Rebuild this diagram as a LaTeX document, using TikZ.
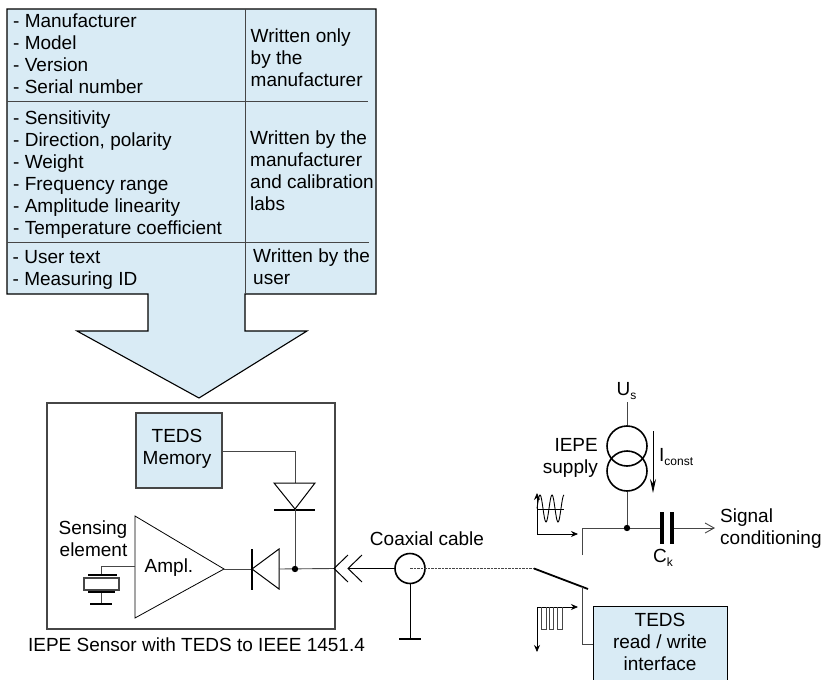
\documentclass[tikz,border=0pt]{standalone}
\usepackage{fontspec}
\setmainfont{Liberation Sans}
\usepackage{xcolor}
\usetikzlibrary{arrows.meta}
\definecolor{tedsblue}{RGB}{217,235,245}
\definecolor{wiregray}{RGB}{70,70,70}
\newcommand{\subtxt}[1]{\raisebox{-4.5pt}{\fontsize{12}{12}\selectfont #1}}
\tikzset{
  lbl/.style={font=\fontsize{19}{22}\selectfont, inner sep=0pt, align=left},
  lblc/.style={lbl, align=center},
  lblr/.style={lbl, align=right},
  wire/.style={draw=wiregray, line width=0.9pt},
  part/.style={draw=black, line width=1pt},
  plate/.style={draw=black, line width=2.8pt},
  tedsbox/.style={draw=black, line width=1.1pt, fill=tedsblue, inner sep=0pt},
  sigarrow/.style={draw=black, line width=0.8pt, -{Stealth[length=7pt,width=6pt]}}
}
\begin{document}
\begin{tikzpicture}[x=1pt,y=-1pt]
\useasboundingbox (0,0) rectangle (823,680);

%list: big arrow
\filldraw [fill=tedsblue, draw=black, line width=1.1pt]
  (7,9) -- (376,9) -- (376,294) -- (245,294) -- (245,331) -- (307,331) -- (199,398)
  -- (77,331) -- (148,331) -- (148,294) -- (7,294) -- cycle;
\fill [tedsblue] (149,290) rectangle (244,335);
\coordinate (listtop) at (245,9);
\coordinate (listbot) at (245,294);
\coordinate (rowa) at (7,101);
\coordinate (rowaend) at (368,101);
\coordinate (rowb) at (7,242);
\coordinate (rowbend) at (369,242);
\draw [wire] (listtop) -- (listbot);
\draw [wire] (rowa) -- (rowaend);
\draw [wire] (rowb) -- (rowbend);

\node [lbl, anchor=north west] (lista) at (13,14) {- Manufacturer\\- Model\\- Version\\- Serial number};
\node [lbl, anchor=north west] (listb) at (13,111) {- Sensitivity\\- Direction, polarity\\- Weight\\- Frequency range\\- Amplitude linearity\\- Temperature coefficient};
\node [lbl, anchor=north west] (listc) at (12.5,250) {- User text\\- Measuring ID};
\node [lbl, anchor=north west] (whoa) at (250.5,29) {Written only\\by the\\manufacturer};
\node [lbl, anchor=north west] (whob) at (250,131) {Written by the\\manufacturer\\and calibration\\labs};
\node [lbl, anchor=north west] (whoc) at (253,249) {Written by the\\user};

%sensor housing
\node [draw=wiregray, line width=1.2pt, minimum width=288pt, minimum height=226pt, inner sep=0pt] (sensor) at (191,516) {};
\node [lbl, anchor=north] (caption) at (196.5,638) {IEPE Sensor with TEDS to IEEE 1451.4};

\node [tedsbox, draw=wiregray, minimum width=86pt, minimum height=75pt] (memory) at (179,450.5) {};
\node [lblc] (memtxt) at (177,449) {TEDS\\Memory};

%diode to memory
\coordinate (dma) at (274,483);
\coordinate (dmb) at (315,483);
\coordinate (dmtop) at (295,483);
\coordinate (dmtip) at (295,509);
\coordinate (dmbara) at (274,510);
\coordinate (dmbarb) at (315,510);
\coordinate (node) at (295,569);
\draw [wire] (memory.east |- 0,451.5) -| (dmtop);
\draw [part, fill=white] (dma) -- (dmb) -- (dmtip) -- cycle;
\draw [plate, line width=1.8pt] (dmbara) -- (dmbarb);
\draw [wire] (dmtip) -- (node);

%amplifier
\coordinate (ampa) at (135,516);
\coordinate (ampb) at (135,618);
\coordinate (ampout) at (224,569);
\coordinate (ampin) at (135,566);
\draw [part, line width=0.8pt] (ampa) -- (ampout) -- (ampb) -- cycle;
\node [lbl] (amptxt) at (169,568) {Ampl.};
\node [lblr, anchor=east] (senstxt) at (127.5,538.5) {Sensing\\element};

%series diode
\coordinate (dsa) at (279,549);
\coordinate (dsb) at (279,589);
\coordinate (dstip) at (252,569);
\coordinate (dsbara) at (252,549);
\coordinate (dsbarb) at (252,590);
\draw [wire] (ampout) -- (dstip);
\draw [part, fill=white] (dsa) -- (dsb) -- (dstip) -- cycle;
\draw [plate, line width=1.8pt] (dsbara) -- (dsbarb);

%crystal
\coordinate (xtop) at (101,575);
\coordinate (xbot) at (101,592);
\coordinate (xgnd) at (101,604);
\draw [wire] (ampin) -| (xtop);
\draw [wire] (xbot) -- (xgnd);
\draw [draw=wiregray, line width=1.1pt, fill=white] (84,578) rectangle (119,590);
\draw [plate] (88,575) -- (117,575);
\draw [plate] (88,592) -- (115,592);
\draw [plate] (90,604) -- (112,604);

%plug
\coordinate (plugtip) at (334,568.5);
\coordinate (plugin) at (348,568.5);
\node [circle, draw=black, line width=1.6pt, minimum size=30pt, inner sep=0pt] (coax) at (410,568.5) {};
\coordinate (coaxgnd) at (410,639);
\node [lbl] (coaxtxt) at (427,539) {Coaxial cable};
\draw [wire] (dsa |- node) -- (plugtip);
\fill [black] (node) circle (3.2pt);
\draw [draw=black, line width=1pt] (348,555) -- (plugtip) -- (348,582);
\draw [draw=black, line width=1pt] (362,555) -- (plugin) -- (362,582);
\draw [draw=black, line width=0.9pt] (plugin) -- (coax.west);
\draw [draw=black, line width=1pt] (coax.south) -- (coaxgnd);
\draw [plate, line width=1.8pt] (399,639) -- (421,639);

%switch
\coordinate (swa) at (534,568.5);
\coordinate (swb) at (588,589);
\coordinate (swmid) at (582,587);
\coordinate (upper) at (582,555);
\coordinate (corner) at (582,528);
\coordinate (junct) at (627,528);
\draw [draw=wiregray, line width=0.8pt, dashed, dash pattern=on 2.5pt off 1pt] (coax.center) -- (swa);
\draw [draw=black, line width=1.8pt] (swa) -- (swb);

%TEDS interface
\node [tedsbox, anchor=north west, minimum width=134pt, minimum height=80pt] (iface) at (593,606) {};
\node [lblc, anchor=north] (ifacetxt) at (660,613) {TEDS\\read / write\\interface};
\draw [wire] (swmid) |- (iface.west |- 0,644);

%supply
\node [lbl] (ustxt) at (626.5,391) {U\subtxt{s}};
\coordinate (ustop) at (627,402);
\node [circle, draw=black, line width=1.6pt, minimum size=40pt, inner sep=0pt] (srcb) at (627,471) {};
\node [circle, draw=black, line width=1.6pt, minimum size=40pt, inner sep=0pt] (srca) at (627,446) {};
\node [lblr, anchor=east] (supplytxt) at (598,458) {IEPE\\supply};
\draw [wire] (ustop) -- (srca.north);
\draw [wire] (srcb.south) -- (junct);
\coordinate (iconsta) at (653,431);
\coordinate (iconstb) at (653,493);
\draw [draw=black, line width=0.9pt, -{Stealth[length=14pt,width=6pt]}] (iconsta) -- (iconstb);
\node [lbl, anchor=west] (iconsttxt) at (659,457) {I\subtxt{const}};

%output
\coordinate (capa) at (662,528);
\coordinate (capb) at (672,528);
\coordinate (sigend) at (715,528);
\draw [wire] (upper) |- (capa);
\draw [wire, -{Straight Barb[length=9pt,width=10pt]}] (capb) -- (sigend);
\fill [black] (junct) circle (3.2pt);
\draw [plate, line width=3.2pt] (662,512) -- (662,544);
\draw [plate, line width=3.2pt] (672,512) -- (672,544);
\node [lbl, anchor=north] (cktxt) at (663,549) {C\subtxt{k}};
\node [lbl, anchor=west] (signaltxt) at (720,529) {Signal\\conditioning};

%sine sketch
\coordinate (sineo) at (537,534);
\coordinate (sinetop) at (537,493);
\coordinate (sinex) at (578,534);
\coordinate (sineaxa) at (537,509);
\coordinate (sineaxb) at (564,509);
\draw [sigarrow] (sineo) -- (sinetop);
\draw [sigarrow] (sineo) -- (sinex);
\draw [draw=black, line width=0.7pt] (sineaxa) -- (sineaxb);
\draw [draw=black, line width=0.9pt] plot [domain=537:564, samples=60, smooth] (\x,{508.5-13.5*sin(30*(\x-537))});

%pulse sketch
\coordinate (pulseo) at (537,607);
\coordinate (pulsedown) at (537,652);
\coordinate (pulsex) at (578,607);
\draw [sigarrow] (pulseo) -- (pulsedown);
\draw [sigarrow] (pulseo) -- (pulsex);
\draw [draw=wiregray, line width=0.9pt] (541,607) |- (546,629) -- (546,607)
  (549,607) |- (553,629) -- (553,607)
  (557,607) |- (562,629) -- (562,607);

\end{tikzpicture}
\end{document}
